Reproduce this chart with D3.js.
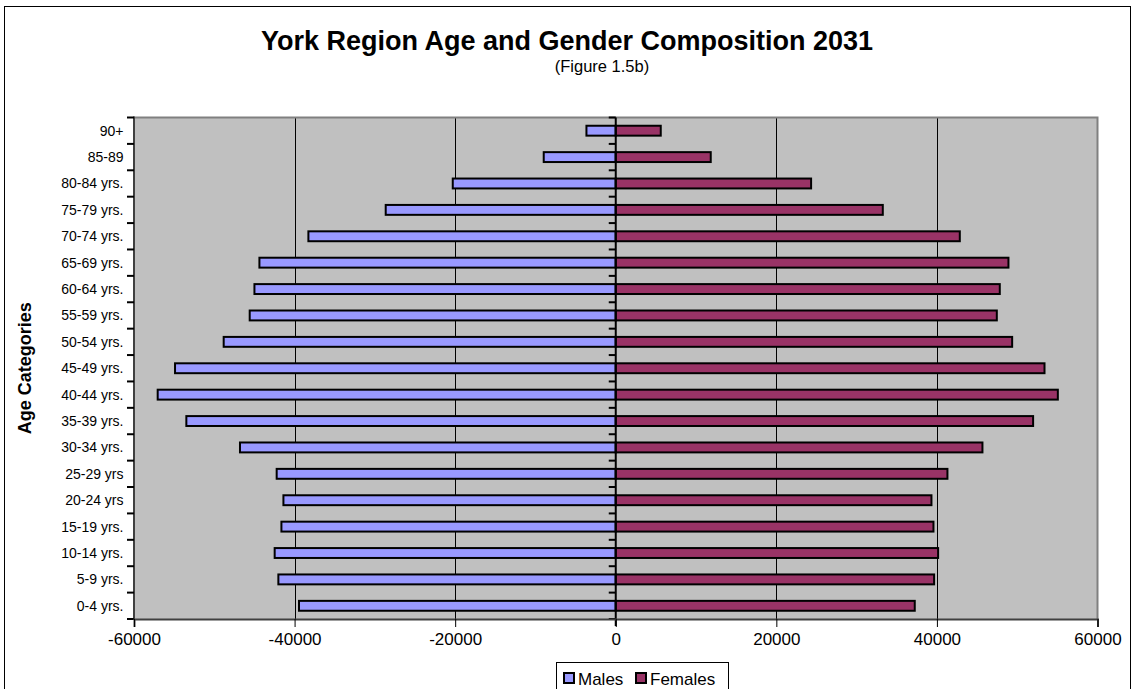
<!DOCTYPE html>
<html>
<head>
<meta charset="utf-8">
<script src="https://cdn.jsdelivr.net/npm/d3@7"></script>
<style>
  html, body { margin: 0; padding: 0; background: #fff; }
  svg { display: block; font-family: Arial, "Liberation Sans", sans-serif; }
</style>
</head>
<body>
<svg id="chart" width="1135" height="689"></svg>
<script>
// Age groups, youngest first (drawn bottom to top)
const ageGroups = ["0-4 yrs.", "5-9 yrs.", "10-14 yrs.", "15-19 yrs.", "20-24 yrs", "25-29 yrs",
  "30-34 yrs.", "35-39 yrs.", "40-44 yrs.", "45-49 yrs.", "50-54 yrs.", "55-59 yrs.",
  "60-64 yrs.", "65-69 yrs.", "70-74 yrs.", "75-79 yrs.", "80-84 yrs.", "85-89", "90+"];

// Males are plotted as negative values to the left of zero
const males = [-39450, -42020, -42480, -41640, -41390, -42230, -46800, -53480, -57050, -54890,
  -48830, -45590, -45000, -44380, -38280, -28650, -20300, -8970, -3650];
const females = [37240, 39650, 40150, 39570, 39320, 41310, 45670, 51980, 55060, 53400,
  49370, 47460, 47830, 48910, 42850, 33260, 24330, 11830, 5605];

const xTicks = [-60000, -40000, -20000, 0, 20000, 40000, 60000];
const seriesNames = ["Males", "Females"];

const maleColor = "#9999FF", femaleColor = "#993366";

const svg = d3.select("#chart");
const W = 1135, H = 689;
const plot = { left: 134, right: 1097.5, top: 117.5, bottom: 619 };

// outer chart frame
svg.append("rect").attr("x", 4.5).attr("y", 6.5).attr("width", 1126).attr("height", 700)
  .attr("fill", "#fff").attr("stroke", "#000").attr("stroke-width", 1);

// titles
svg.append("text").attr("x", 567).attr("y", 50).attr("text-anchor", "middle")
  .attr("font-size", 27).attr("font-weight", "bold").text("York Region Age and Gender Composition 2031");
svg.append("text").attr("x", 602).attr("y", 72).attr("text-anchor", "middle")
  .attr("font-size", 16.5).text("(Figure 1.5b)");

const x = d3.scaleLinear().domain([-60000, 60000]).range([plot.left, plot.right]);
const y = d3.scaleBand().domain(ageGroups.slice().reverse())
  .range([plot.top, plot.bottom]).paddingInner(0.625).paddingOuter(0.3125);

// plot background
svg.append("rect").attr("x", plot.left).attr("y", plot.top)
  .attr("width", plot.right - plot.left).attr("height", plot.bottom - plot.top)
  .attr("fill", "#C0C0C0");

// vertical gridlines
svg.append("g").selectAll("line").data(xTicks.filter(d => d !== 0 && Math.abs(d) !== 60000))
  .join("line")
  .attr("x1", d => Math.round(x(d)) + 0.5).attr("x2", d => Math.round(x(d)) + 0.5)
  .attr("y1", plot.top).attr("y2", plot.bottom)
  .attr("stroke", "#000").attr("stroke-width", 1);

// plot border top / right
svg.append("path")
  .attr("d", `M${plot.left},${plot.top} H${plot.right} V${plot.bottom}`)
  .attr("fill", "none").attr("stroke", "#808080").attr("stroke-width", 2);

// bars
const rows = ageGroups.map((g, i) => ({ g, m: males[i], f: females[i] }));
const barG = svg.append("g");
barG.selectAll("rect.m").data(rows).join("rect").attr("class", "m")
  .attr("x", d => x(d.m)).attr("width", d => x(0) - x(d.m))
  .attr("y", d => y(d.g)).attr("height", y.bandwidth())
  .attr("fill", maleColor).attr("stroke", "#000").attr("stroke-width", 2);
barG.selectAll("rect.f").data(rows).join("rect").attr("class", "f")
  .attr("x", x(0)).attr("width", d => x(d.f) - x(0))
  .attr("y", d => y(d.g)).attr("height", y.bandwidth())
  .attr("fill", femaleColor).attr("stroke", "#000").attr("stroke-width", 2);

// category boundary positions
const step = y.step();
const bounds = d3.range(ageGroups.length + 1).map(i => plot.top + i * (plot.bottom - plot.top) / ageGroups.length);

// zero axis with tick marks
const zx = x(0);
svg.append("line").attr("x1", zx).attr("x2", zx).attr("y1", plot.top).attr("y2", plot.bottom + 7)
  .attr("stroke", "#000").attr("stroke-width", 2);
svg.append("g").selectAll("line").data(bounds).join("line")
  .attr("x1", zx - 7).attr("x2", zx).attr("y1", d => d).attr("y2", d => d)
  .attr("stroke", "#000").attr("stroke-width", 2);

// left axis line with tick marks
svg.append("line").attr("x1", plot.left).attr("x2", plot.left).attr("y1", plot.top - 1).attr("y2", plot.bottom)
  .attr("stroke", "#404040").attr("stroke-width", 2);
svg.append("g").selectAll("line").data(bounds).join("line")
  .attr("x1", plot.left - 7).attr("x2", plot.left).attr("y1", d => d).attr("y2", d => d)
  .attr("stroke", "#000").attr("stroke-width", 2);

// category labels
svg.append("g").selectAll("text").data(ageGroups).join("text")
  .attr("x", 123.5).attr("y", d => y(d) + y.bandwidth() / 2 + 5)
  .attr("text-anchor", "end").attr("font-size", 14).text(d => d);

// bottom x axis
const xAxis = d3.axisBottom(x).tickValues(xTicks).tickSize(8).tickPadding(6)
  .tickFormat(d => String(d));
const gx = svg.append("g").attr("transform", `translate(0,${plot.bottom})`).call(xAxis);
gx.select(".domain").attr("stroke", "#404040").attr("stroke-width", 2);
gx.selectAll(".tick line").attr("stroke", "#000").attr("stroke-width", 1);
gx.selectAll(".tick text").attr("font-size", 17).attr("fill", "#000")
  .attr("font-family", "Arial, 'Liberation Sans', sans-serif");

// y axis title
svg.append("text").attr("transform", `translate(31,${(plot.top + plot.bottom) / 2}) rotate(-90)`)
  .attr("text-anchor", "middle").attr("font-size", 18).attr("font-weight", "bold")
  .text("Age Categories");

// legend
const lg = svg.append("g");
lg.append("rect").attr("x", 556.5).attr("y", 662.5).attr("width", 172).attr("height", 40)
  .attr("fill", "#fff").attr("stroke", "#000").attr("stroke-width", 1);
const legendItems = [
  { name: seriesNames[0], color: maleColor, sx: 564, tx: 578 },
  { name: seriesNames[1], color: femaleColor, sx: 636, tx: 650 }
];
lg.selectAll("rect.sw").data(legendItems).join("rect").attr("class", "sw")
  .attr("x", d => d.sx).attr("y", 673).attr("width", 10).attr("height", 10)
  .attr("fill", d => d.color).attr("stroke", "#000").attr("stroke-width", 2);
lg.selectAll("text").data(legendItems).join("text")
  .attr("x", d => d.tx).attr("y", 684.5).attr("font-size", 17).text(d => d.name);
</script>
</body>
</html>
